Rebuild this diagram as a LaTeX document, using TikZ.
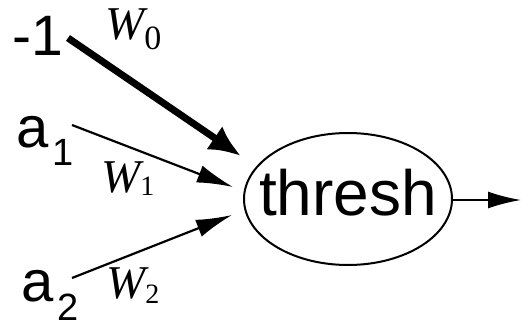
\documentclass[tikz,border=0pt]{standalone}
\usepackage{fontspec}
\setmainfont{Liberation Serif}
\newfontfamily\arialf{Liberation Sans}
\usetikzlibrary{arrows.meta,shapes.geometric}
\tikzset{
  lbl/.style={inner sep=0pt, anchor=base west, font=\arialf\fontsize{58}{58}\selectfont},
  wlbl/.style={inner sep=0pt, anchor=base west, font=\fontsize{47}{47}\selectfont\itshape},
  thin/.style={line width=2.2pt, -{Latex[length=36pt,width=18pt]}},
  thick/.style={line width=7pt, -{Latex[length=32pt,width=28pt]}},
  unit/.style={draw, ellipse, line width=2pt, inner xsep=-16pt, inner ysep=0pt, text height=46pt, text depth=14pt,
    minimum width=208pt, minimum height=132pt, font=\arialf\fontsize{64}{64}\selectfont},
}
\newcommand{\subdig}[3]{\raisebox{#1}{\upshape\fontsize{#2}{#2}\selectfont #3}}
\begin{document}
\begin{tikzpicture}[x=1pt,y=-1pt]
\useasboundingbox (0,0) rectangle (521,326);
\fill[white] (0,0) rectangle (521,326);
% nodes
\node[unit] (th) at (348,199) {thresh};
\node[lbl, font=\arialf\fontsize{57}{57}\selectfont] (m1) at (12.5,56) {-1};
\node[lbl] (a1) at (16,147) {a\kern4pt\subdig{-18pt}{38}{1}};
\node[lbl] (a2) at (21,301) {a\kern4pt\subdig{-19pt}{38}{2}};
\node[wlbl] (w0) at (105,40) {W\subdig{-10pt}{34}{0}};
\node[wlbl] (w1) at (101,192) {W\subdig{-3pt}{28}{1}};
\node[wlbl] (w2) at (106,298) {W\subdig{-5pt}{28}{2}};
% connector ends
\coordinate (s0) at (68,38);
\coordinate (t0) at (241,156);
\coordinate (s1) at (72,125);
\coordinate (t1) at (233,187);
\coordinate (s2) at (72,278);
\coordinate (t2) at (232,215);
\coordinate (out) at (521,200);
% connectors
\draw[thick] (s0) -- (t0);
\draw[thin] (s1) -- (t1);
\draw[thin] (s2) -- (t2);
\draw[line width=2pt, -{Latex[length=33pt,width=17pt]}] (th.east |- 0,200) -- (out);
\end{tikzpicture}
\end{document}
